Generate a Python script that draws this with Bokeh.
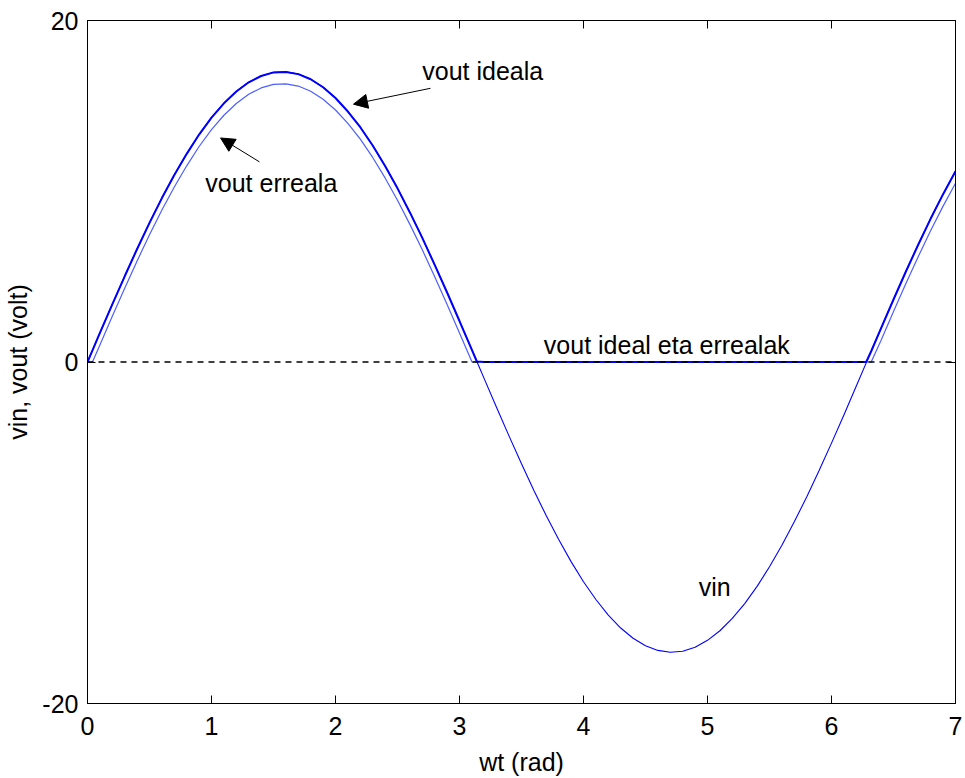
from bokeh.plotting import figure
from bokeh.models import (LinearAxis, FixedTicker, Arrow, NormalHead, Label, Span)
from bokeh.embed import file_html
from bokeh.resources import INLINE

# ---- data ----
wt = [0.0, 0.04, 0.1, 0.2, 0.3, 0.4, 0.5, 0.6, 0.7, 0.8, 0.9,
      1.0, 1.1, 1.2, 1.3, 1.4, 1.5, 1.6, 1.7, 1.8, 1.9,
      2.0, 2.1, 2.2, 2.3, 2.4, 2.5, 2.6, 2.7, 2.8, 2.9,
      3.0, 3.1, 3.14, 3.2, 3.3, 3.4, 3.5, 3.6, 3.7, 3.8, 3.9,
      4.0, 4.1, 4.2, 4.3, 4.4, 4.5, 4.6, 4.7, 4.8, 4.9,
      5.0, 5.1, 5.2, 5.3, 5.4, 5.5, 5.6, 5.7, 5.8, 5.9,
      6.0, 6.1, 6.2, 6.28, 6.32, 6.4, 6.5, 6.6, 6.7, 6.8, 6.9, 7.0]

vin = [0.0, 0.68, 1.70, 3.38, 5.02, 6.62, 8.15, 9.60, 10.95, 12.19, 13.32,
       14.31, 15.15, 15.84, 16.38, 16.75, 16.96, 16.99, 16.86, 16.56, 16.09,
       15.46, 14.67, 13.75, 12.68, 11.48, 10.17, 8.76, 7.27, 5.69, 4.07,
       2.40, 0.71, 0.03, -0.99, -2.68, -4.34, -5.96, -7.52, -9.01, -10.40, -11.69,
       -12.87, -13.91, -14.82, -15.58, -16.18, -16.62, -16.89, -17.00, -16.94, -16.70,
       -16.30, -15.74, -15.02, -14.15, -13.14, -11.99, -10.73, -9.36, -7.90, -6.36,
       -4.75, -3.10, -1.41, -0.05, 0.63, 1.98, 3.66, 5.30, 6.88, 8.40, 9.83, 11.17]

vout_ideala = [0.0, 0.68, 1.70, 3.38, 5.02, 6.62, 8.15, 9.60, 10.95, 12.19, 13.32,
               14.31, 15.15, 15.84, 16.38, 16.75, 16.96, 16.99, 16.86, 16.56, 16.09,
               15.46, 14.67, 13.75, 12.68, 11.48, 10.17, 8.76, 7.27, 5.69, 4.07,
               2.40, 0.71, 0.03, 0.0, 0.0, 0.0, 0.0, 0.0, 0.0, 0.0, 0.0,
               0.0, 0.0, 0.0, 0.0, 0.0, 0.0, 0.0, 0.0, 0.0, 0.0,
               0.0, 0.0, 0.0, 0.0, 0.0, 0.0, 0.0, 0.0, 0.0, 0.0,
               0.0, 0.0, 0.0, 0.0, 0.63, 1.98, 3.66, 5.30, 6.88, 8.40, 9.83, 11.17]

vout_erreala = [0.0, 0.0, 1.00, 2.68, 4.32, 5.92, 7.45, 8.90, 10.25, 11.49, 12.62,
                13.61, 14.45, 15.14, 15.68, 16.05, 16.26, 16.29, 16.16, 15.86, 15.39,
                14.76, 13.97, 13.05, 11.98, 10.78, 9.47, 8.06, 6.57, 4.99, 3.37,
                1.70, 0.01, 0.0, 0.0, 0.0, 0.0, 0.0, 0.0, 0.0, 0.0, 0.0,
                0.0, 0.0, 0.0, 0.0, 0.0, 0.0, 0.0, 0.0, 0.0, 0.0,
                0.0, 0.0, 0.0, 0.0, 0.0, 0.0, 0.0, 0.0, 0.0, 0.0,
                0.0, 0.0, 0.0, 0.0, 0.0, 1.28, 2.96, 4.60, 6.18, 7.70, 9.13, 10.47]

x_ticks = [0, 1, 2, 3, 4, 5, 6, 7]
y_ticks = [-20, 0, 20]
y_tick_labels = {-20: "-20", 0: "0", 20: "20"}

FONT = "Liberation Sans"
FS = "25px"

p = figure(width=965, height=778, x_range=(0, 7), y_range=(-20, 20),
           output_backend="svg", toolbar_location=None,
           min_border_left=87, min_border_right=10, min_border_top=20,
           min_border_bottom=72)
p.background_fill_color = "white"
p.border_fill_color = "white"
p.xgrid.visible = False
p.ygrid.visible = False
p.outline_line_color = "black"
p.outline_line_width = 1

# zero dashed line
p.add_layout(Span(location=0, dimension="width", line_color="black",
                  line_dash="6 5", line_width=1.4))

p.line(wt, vin, line_color="#0000ff", line_width=1.1)
p.line(wt, vout_erreala, line_color="#4d5fff", line_width=1.2)
p.line(wt, vout_ideala, line_color="#0000ff", line_width=2)

def style_axis(ax, show_labels):
    ax.axis_line_color = "black"
    ax.major_tick_in = 8
    ax.major_tick_out = 0
    ax.minor_tick_line_color = None
    ax.major_tick_line_color = "black"
    if show_labels:
        ax.major_label_text_font = FONT
        ax.major_label_text_font_size = FS
        ax.major_label_text_color = "black"
    else:
        ax.major_label_text_font_size = "0px"
        ax.major_label_text_color = None

xa = p.xaxis[0]
ya = p.yaxis[0]
xa.ticker = FixedTicker(ticks=x_ticks)
ya.ticker = FixedTicker(ticks=y_ticks)
ya.major_label_overrides = y_tick_labels
style_axis(xa, True)
style_axis(ya, True)
xa.major_label_standoff = 13
ya.major_label_standoff = 9
xa.axis_label = "wt (rad)"
ya.axis_label = "vin, vout (volt)"
for ax in (xa, ya):
    ax.axis_label_text_font = FONT
    ax.axis_label_text_font_size = FS
    ax.axis_label_text_font_style = "normal"
    ax.axis_label_text_color = "black"
xa.axis_label_standoff = 10
ya.axis_label_standoff = 7

top = LinearAxis(ticker=FixedTicker(ticks=x_ticks))
right = LinearAxis(ticker=FixedTicker(ticks=y_ticks))
style_axis(top, False)
style_axis(right, False)
p.add_layout(top, "above")
p.add_layout(right, "right")

# annotations
p.add_layout(Arrow(end=NormalHead(size=14, fill_color="black", line_color="black"),
                   x_start=2.766, y_start=16.03, x_end=2.145, y_end=15.10,
                   line_color="black", line_width=1))
p.add_layout(Arrow(end=NormalHead(size=14, fill_color="black", line_color="black"),
                   x_start=1.387, y_start=11.72, x_end=1.073, y_end=13.12,
                   line_color="black", line_width=1))

def lab(x, y, t):
    p.add_layout(Label(x=x, y=y, text=t, text_font=FONT, text_font_size=FS,
                       text_color="black", text_baseline="alphabetic",
                       text_align="left"))

lab(2.70, 17.05, "vout ideala")
lab(0.95, 10.48, "vout erreala")
lab(3.68, 0.98, "vout ideal eta errealak")
lab(4.93, -13.20, "vin")

open("out.html", "w").write(file_html(p, INLINE))
